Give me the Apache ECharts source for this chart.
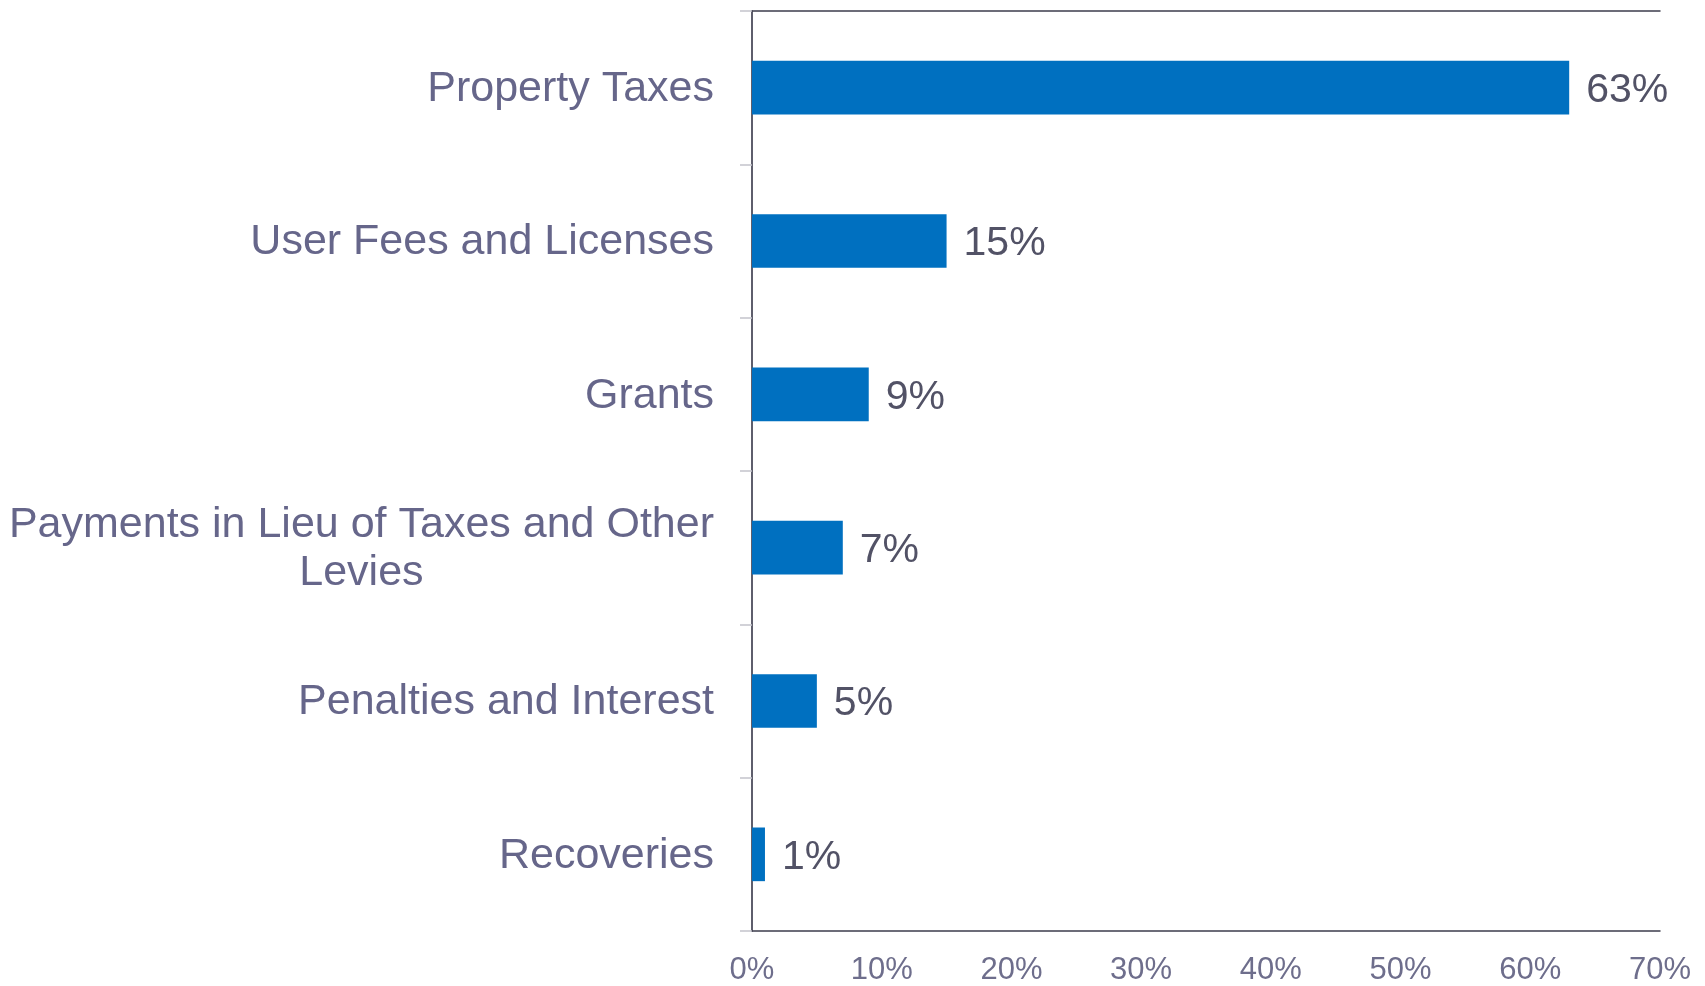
<!DOCTYPE html>
<html>
<head>
<meta charset="utf-8">
<script src="https://cdn.jsdelivr.net/npm/echarts@6/dist/echarts.min.js"></script>
<style>
  html, body { margin: 0; padding: 0; background: #ffffff; }
  #chart { width: 1705px; height: 986px; }
</style>
</head>
<body>
<div id="chart"></div>
<script>
// Revenue sources and their share of total revenue (%)
const categories = [
  'Property Taxes',
  'User Fees and Licenses',
  'Grants',
  'Payments in Lieu of Taxes and Other\nLevies',
  'Penalties and Interest',
  'Recoveries'
];
const shares = [63, 15, 9, 7, 5, 1];
const xTicks = { min: 0, max: 70, interval: 10 };

const chart = echarts.init(document.getElementById('chart'));
const font = '"Liberation Sans", Arial, sans-serif';
const frameColor = '#3c3c4c';
const lightLine = '#c4c4cc';

chart.setOption({
  animation: false,
  backgroundColor: '#ffffff',
  grid: { left: 752, right: 45, top: 11, bottom: 54, containLabel: false },
  xAxis: [
    {
      type: 'value',
      min: xTicks.min, max: xTicks.max, interval: xTicks.interval,
      position: 'bottom',
      axisLine: { show: true, lineStyle: { color: frameColor, width: 1.5 } },
      axisTick: { show: false },
      splitLine: { show: false },
      axisLabel: {
        formatter: v => v + '%',
        color: '#6e6e8c', fontSize: 31, fontFamily: font, margin: 24
      }
    },
    {
      type: 'value',
      min: xTicks.min, max: xTicks.max,
      position: 'top',
      axisLine: { show: true, lineStyle: { color: frameColor, width: 1.5 } },
      axisTick: { show: false },
      axisLabel: { show: false },
      splitLine: { show: false }
    }
  ],
  yAxis: [
    {
      type: 'category',
      data: categories,
      inverse: true,
      position: 'left',
      axisLine: { show: true, lineStyle: { color: lightLine, width: 2 } },
      axisTick: { show: true, length: 12, lineStyle: { color: lightLine, width: 1.5 } },
      axisLabel: {
        margin: 38,
        formatter: v => v.split('\n').map(s => '{c|' + s + '}').join('\n'),
        rich: {
          c: {
            align: 'center', color: '#66668a', fontSize: 43,
            fontFamily: font, lineHeight: 48, padding: [3, 0, 0, 0]
          }
        }
      }
    },
    {
      type: 'category',
      data: categories,
      inverse: true,
      position: 'right',
      axisLine: { show: true, lineStyle: { color: frameColor, width: 1.5 } },
      axisTick: { show: false },
      axisLabel: { show: false }
    }
  ],
  series: [
    {
      type: 'bar',
      data: shares,
      barWidth: '35%',
      itemStyle: { color: '#0070c0' },
      label: {
        show: true,
        position: 'right',
        distance: 17,
        offset: [0, 3],
        formatter: p => p.value + '%',
        color: '#525266',
        fontSize: 41,
        fontFamily: font
      }
    }
  ]
});
</script>
</body>
</html>
